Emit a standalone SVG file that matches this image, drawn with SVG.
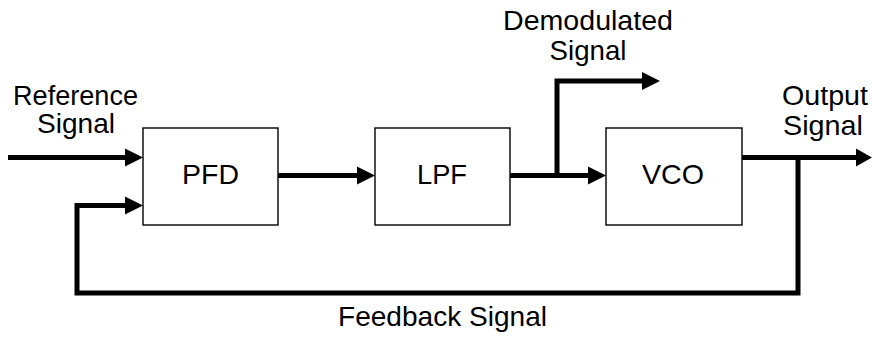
<svg xmlns="http://www.w3.org/2000/svg" width="872" height="337" viewBox="0 0 872 337">
<style>
.box{fill:#fff;stroke:#000;stroke-width:1.4}
.lbl{font-family:"Liberation Sans",Arial,sans-serif;font-size:27.5px;fill:#000;text-anchor:middle}
.wire{fill:none;stroke:#000;stroke-width:5;stroke-linejoin:miter}
.head{fill:#000}
</style>
<rect width="872" height="337" fill="#fff"/>
<g id="connectors">
<path class="wire" d="M8,157.5 H127"/>
<polygon class="head" points="125,148.5 143,157.5 125,166.5"/>
<path class="wire" d="M798,157.5 V293 H77 V205.5 H127"/>
<polygon class="head" points="125,196.5 143,205.5 125,214.5"/>
<path class="wire" d="M278,175.5 H359"/>
<polygon class="head" points="357,166.5 375,175.5 357,184.5"/>
<path class="wire" d="M510,175.5 H590"/>
<polygon class="head" points="588,166.5 606,175.5 588,184.5"/>
<path class="wire" d="M557,175.5 V81 H644"/>
<polygon class="head" points="642,72 660,81 642,90"/>
<path class="wire" d="M742,157.5 H858"/>
<polygon class="head" points="856,148.5 872,157.5 856,166.5"/>
</g>
<g id="pfd">
<rect class="box" x="143" y="128" width="135" height="97"/>
<text class="lbl" x="210.5" y="184" textLength="57" lengthAdjust="spacingAndGlyphs">PFD</text>
</g>
<g id="lpf">
<rect class="box" x="375" y="128" width="135" height="97"/>
<text class="lbl" x="442" y="184" textLength="50" lengthAdjust="spacingAndGlyphs">LPF</text>
</g>
<g id="vco">
<rect class="box" x="606" y="128" width="136" height="97"/>
<text class="lbl" x="673" y="184" textLength="62" lengthAdjust="spacingAndGlyphs">VCO</text>
</g>
<g id="labels">
<text class="lbl" x="75.5" y="105" textLength="125" lengthAdjust="spacingAndGlyphs">Reference</text>
<text class="lbl" x="76" y="133" textLength="78" lengthAdjust="spacingAndGlyphs">Signal</text>
<text class="lbl" x="588" y="30" textLength="170" lengthAdjust="spacingAndGlyphs">Demodulated</text>
<text class="lbl" x="588" y="60" textLength="77" lengthAdjust="spacingAndGlyphs">Signal</text>
<text class="lbl" x="825" y="105" textLength="86" lengthAdjust="spacingAndGlyphs">Output</text>
<text class="lbl" x="823" y="135" textLength="80" lengthAdjust="spacingAndGlyphs">Signal</text>
<text class="lbl" x="442.5" y="326" textLength="209" lengthAdjust="spacingAndGlyphs">Feedback Signal</text>
</g>
</svg>
